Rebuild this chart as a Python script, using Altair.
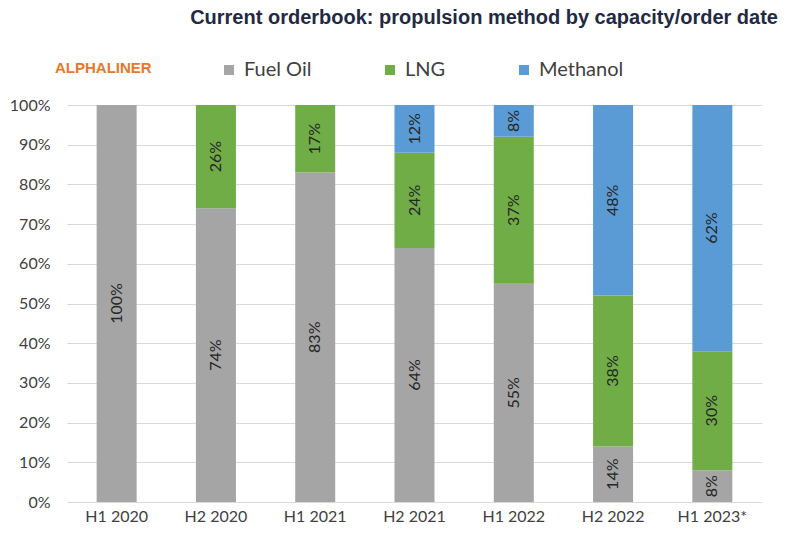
import altair as alt
import pandas as pd

periods = ["H1 2020", "H2 2020", "H1 2021", "H2 2021", "H1 2022", "H2 2022", "H1 2023*"]
fuel_oil = [100, 74, 83, 64, 55, 14, 8]
lng = [0, 26, 17, 24, 37, 38, 30]
methanol = [0, 0, 0, 12, 8, 48, 62]
series_names = ["Fuel Oil", "LNG", "Methanol"]
series_colors = ["#A5A5A5", "#70AD47", "#5B9BD5"]
title_text = "Current orderbook: propulsion method by capacity/order date"
brand_text = "ALPHALINER"

rows = []
for i, p in enumerate(periods):
    for k, (name, vals) in enumerate(zip(series_names, [fuel_oil, lng, methanol])):
        rows.append({"period": p, "series": name, "idx": k, "value": vals[i]})
df = pd.DataFrame(rows)

FONT = "Lato"
y_ticks = [0, 10, 20, 30, 40, 50, 60, 70, 80, 90, 100]

x_scale = alt.Scale(paddingInner=0.6, paddingOuter=0.30)
x_axis = alt.Axis(labelAngle=0, domain=False, ticks=False, labelPadding=6,
                  labelFontSize=16, labelColor="#404040", labelFont=FONT)
y_scale = alt.Scale(domain=[0, 100], nice=False)
y_axis = alt.Axis(values=y_ticks, labelExpr="datum.value + '%'",
                  domain=False, ticks=False, labelPadding=17, labelOverlap=False,
                  labelFontSize=16, labelColor="#404040", labelFont=FONT,
                  grid=True, gridColor="#D9D9D9", gridWidth=1)

base = alt.Chart(df)

bars = base.mark_bar(size=40).encode(
    x=alt.X("period:N", sort=periods, title=None, scale=x_scale, axis=x_axis),
    y=alt.Y("value:Q", stack="zero", title=None, scale=y_scale, axis=y_axis),
    color=alt.Color("series:N", sort=series_names,
                    scale=alt.Scale(domain=series_names, range=series_colors),
                    legend=alt.Legend(orient="none", legendX=152, legendY=-45, direction="horizontal",
                                      title=None, symbolType="square", symbolSize=100,
                                      symbolStrokeWidth=0, labelFontSize=20, labelFont=FONT,
                                      labelColor="#404040", columnPadding=68, labelOffset=5,
                                      padding=0)),
    order=alt.Order("idx:Q", sort="ascending"),
)

labels = base.transform_filter("datum.value > 0").transform_stack(
    stack="value", as_=["y0", "y1"], groupby=["period"], sort=[alt.SortField("idx", order="ascending")]
).transform_calculate(
    mid="(datum.y0 + datum.y1) / 2", lab="datum.value + '%'"
).mark_text(angle=270, align="center", baseline="middle", fontSize=16, font=FONT, color="#262626").encode(
    x=alt.X("period:N", sort=periods, title=None, scale=x_scale, axis=x_axis),
    y=alt.Y("mid:Q", title=None, scale=y_scale, axis=y_axis),
    text="lab:N",
)

title = alt.Chart(pd.DataFrame({"t": [title_text]})).mark_text(
    align="right", baseline="middle", fontSize=20, fontWeight="bold",
    font="Liberation Sans", color="#1F2A44"
).encode(x=alt.value(711), y=alt.value(-87), text="t:N")

brand = alt.Chart(pd.DataFrame({"t": [brand_text]})).mark_text(
    align="left", baseline="middle", fontSize=15, fontWeight="bold",
    font="Liberation Sans", color="#E8762B"
).encode(x=alt.value(-12), y=alt.value(-37), text="t:N")

chart = alt.layer(bars, labels, title, brand).properties(
    width=695, height=397,
    background="white",
    autosize=alt.AutoSizeParams(type="none"),
    padding={"left": 59, "top": 97, "right": 17, "bottom": 22},
).configure_view(stroke=None)

chart.save("out.html", embed_options={"renderer": "svg", "actions": False})
